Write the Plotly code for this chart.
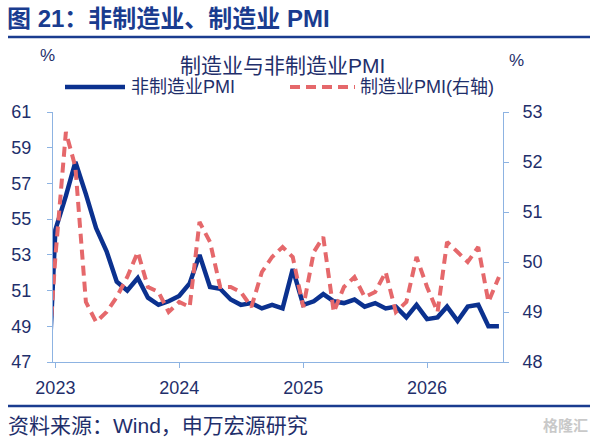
import pandas as pd
import plotly.graph_objects as go

# monthly PMI, Dec 2022 .. Aug 2026
months = pd.date_range("2022-12-01", "2026-08-01", freq="MS")
non_mfg = [41.6,
           54.4, 56.3, 58.2, 56.4, 54.5, 53.2, 51.5, 51.0, 51.7, 50.6, 50.2, 50.4,
           50.7, 51.4, 53.0, 51.2, 51.1, 50.5, 50.2, 50.3, 50.0, 50.2, 50.0, 52.2,
           50.2, 50.4, 50.8, 50.4, 50.3, 50.5, 50.1, 50.3, 50.0, 50.1, 49.5, 50.2,
           49.4, 49.5, 50.1, 49.3, 50.1, 50.2, 49.0, 49.0]
mfg = [47.0,
       50.1, 52.6, 51.9, 49.2, 48.8, 49.0, 49.3, 49.7, 50.2, 49.5, 49.4, 49.0,
       49.2, 49.1, 50.8, 50.4, 49.5, 49.5, 49.4, 49.1, 49.8, 50.1, 50.3, 50.1,
       49.1, 50.2, 50.5, 49.0, 49.5, 49.7, 49.3, 49.4, 49.8, 49.0, 49.2, 50.1,
       49.5, 49.0, 50.4, 50.2, 50.0, 50.3, 49.2, 49.7]
year_ticks = ["2023-01-01", "2024-01-01", "2025-01-01", "2026-01-01"]
year_labels = ["2023", "2024", "2025", "2026"]

BLUE = "#0B318F"
RED = "#E5686B"
NAVY = "#1F2F6B"
AXIS = "#8DB3E2"
FONT = "Liberation Sans, Noto Sans CJK SC, sans-serif"

W, H = 594, 440
L, R, T, B = 53, 91, 112, 78
pw, ph = W - L - R, H - T - B


def px(x):
    return (x - L) / pw


def py(y):
    return (H - B - y) / ph


fig = go.Figure()
fig.add_trace(go.Scatter(x=months, y=non_mfg, mode="lines", name="非制造业PMI",
                         line=dict(color=BLUE, width=4.5), yaxis="y"))
fig.add_trace(go.Scatter(x=months, y=mfg, mode="lines", name="制造业PMI(右轴)",
                         line=dict(color=RED, width=4, dash="10px,6px"), yaxis="y2"))

tick_font = dict(size=18, color=NAVY)
fig.update_layout(
    width=W, height=H,
    margin=dict(l=L, r=R, t=T, b=B),
    paper_bgcolor="white", plot_bgcolor="white",
    showlegend=False,
    font=dict(family=FONT, color=NAVY, size=15),
    xaxis=dict(range=["2022-12-25", "2026-08-13"], tickvals=year_ticks, ticktext=year_labels,
               showgrid=False, zeroline=False, showline=True, linecolor=AXIS, linewidth=1,
               ticks="outside", ticklen=5, tickcolor=AXIS, ticklabelstandoff=4, tickfont=tick_font),
    yaxis=dict(range=[47, 61], tick0=47, dtick=2, showgrid=False, zeroline=False, showline=True,
               linecolor=AXIS, linewidth=1, ticks="outside", ticklen=5, tickcolor=AXIS,
               ticklabelstandoff=12, tickfont=tick_font),
    yaxis2=dict(range=[48, 53], dtick=1, overlaying="y", side="right", showgrid=False,
                zeroline=False, showline=True, linecolor=AXIS, linewidth=1, ticks="outside",
                ticklen=5, tickcolor=AXIS, ticklabelstandoff=10, tickfont=tick_font),
)

shapes = [
    dict(type="line", xref="paper", yref="paper", x0=px(8), x1=px(590), y0=py(37), y1=py(37),
         line=dict(color="#1A3C8F", width=2.5)),
    dict(type="line", xref="paper", yref="paper", x0=px(8), x1=px(590), y0=py(406), y1=py(406),
         line=dict(color="#1A3C8F", width=2.5)),
    dict(type="line", xref="paper", yref="paper", x0=px(65), x1=px(125), y0=py(87), y1=py(87),
         line=dict(color=BLUE, width=4.5)),
    dict(type="line", xref="paper", yref="paper", x0=px(290), x1=px(355), y0=py(87), y1=py(87),
         line=dict(color=RED, width=4, dash="10px,6px")),
]
fig.update_layout(shapes=shapes)

notes = [
    ("图 21：非制造业、制造业 PMI", 5, 19, "left", 24, "#1A3C8F", True),
    ("制造业与非制造业PMI", 282, 65, "center", 21, NAVY, False),
    ("%", 47, 55, "center", 17, NAVY, False),
    ("%", 516, 60, "center", 17, NAVY, False),
    ("非制造业PMI", 129, 87, "left", 18, NAVY, False),
    ("制造业PMI(右轴)", 358, 87, "left", 18, NAVY, False),
    ("资料来源：Wind，申万宏源研究", 6, 425, "left", 21, NAVY, False),
    ("格隆汇", 590, 425, "right", 15, "#C9C9C9", True),
]
for text, x, y, anchor, size, color, bold in notes:
    fig.add_annotation(text="<b>%s</b>" % text if bold else text, xref="paper", yref="paper",
                       x=px(x), y=py(y), xanchor=anchor, yanchor="middle", showarrow=False,
                       font=dict(size=size, color=color, family=FONT))

fig.write_html("out.html", config={"displayModeBar": False},
               post_script="document.body.style.margin='0px';")
